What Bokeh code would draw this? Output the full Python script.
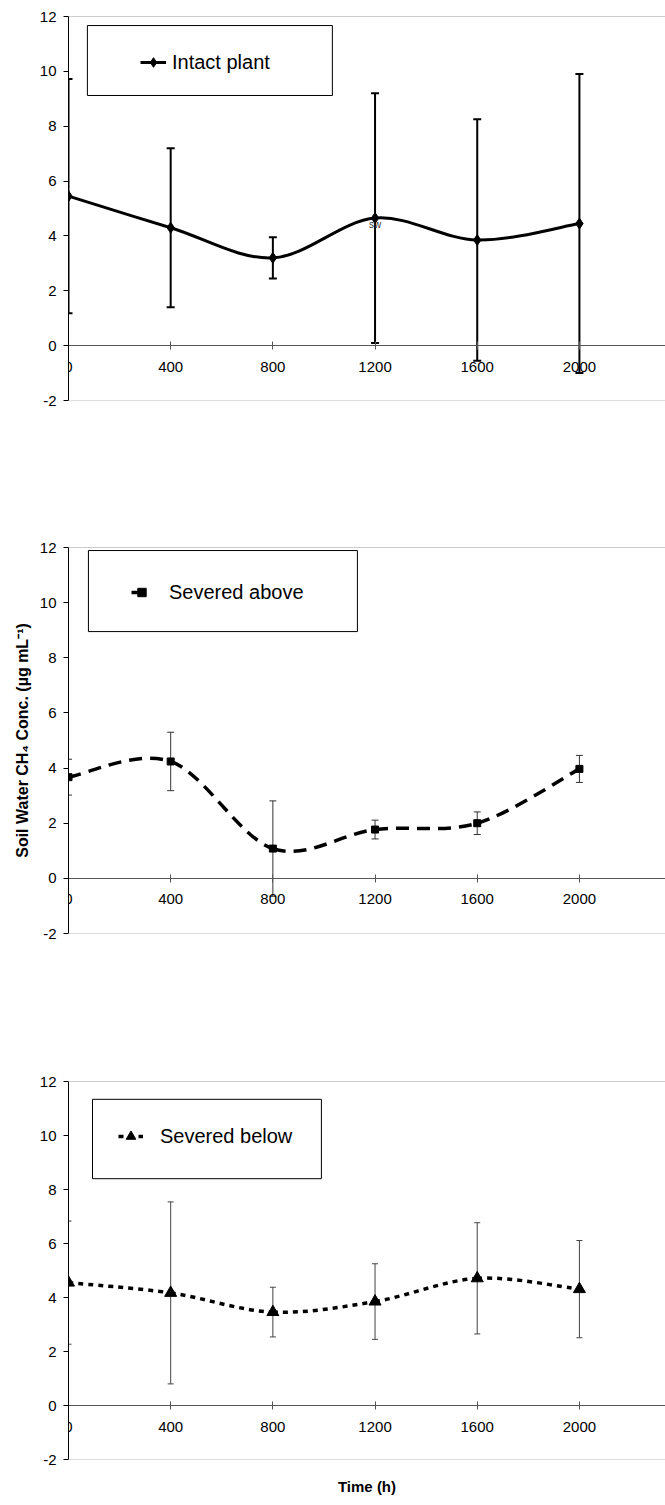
from bokeh.plotting import figure
from bokeh.models import (ColumnDataSource, Range1d, FixedTicker, Whisker, TeeHead,
                          Legend, LegendItem, BoxAnnotation, Span, LinearAxis)
from bokeh.layouts import column
from bokeh.core.properties import value
from bokeh.embed import file_html
from bokeh.resources import INLINE

# ---------------- data ----------------
times = [0, 400, 800, 1200, 1600, 2000]

intact_mean = [5.45, 4.30, 3.20, 4.65, 3.85, 4.45]
intact_err = [4.27, 2.90, 0.75, 4.55, 4.40, 5.45]

above_mean = [3.67, 4.24, 1.08, 1.77, 2.00, 3.97]
above_err = [0.65, 1.06, 1.73, 0.34, 0.41, 0.49]

below_mean = [4.55, 4.17, 3.46, 3.85, 4.71, 4.31]
below_err = [2.28, 3.37, 0.92, 1.40, 2.06, 1.80]

series_labels = ["Intact plant", "Severed above", "Severed below"]
x_ticks = [0, 400, 800, 1200, 1600, 2000]
y_ticks = [-2, 0, 2, 4, 6, 8, 10, 12]
y_title = "Soil Water CH\u2084 Conc. (\u00b5g mL\u207b\u00b9)"
x_title = "Time (h)"
note_text = ["sw"]
note_x = [1200]
note_y = [4.42]

FONT = "Liberation Sans"
X_END = 2337


def bezier_cols(xs, ys):
    n = len(xs)
    pts = list(zip(xs, ys))
    c = dict(x0=[], y0=[], x1=[], y1=[], cx0=[], cy0=[], cx1=[], cy1=[])
    for i in range(n - 1):
        p0 = pts[max(i - 1, 0)]
        p1 = pts[i]
        p2 = pts[i + 1]
        p3 = pts[min(i + 2, n - 1)]
        c["x0"].append(p1[0]); c["y0"].append(p1[1])
        c["x1"].append(p2[0]); c["y1"].append(p2[1])
        c["cx0"].append(p1[0] + (p2[0] - p0[0]) / 6.0)
        c["cy0"].append(p1[1] + (p2[1] - p0[1]) / 6.0)
        c["cx1"].append(p2[0] - (p3[0] - p1[0]) / 6.0)
        c["cy1"].append(p2[1] - (p3[1] - p1[1]) / 6.0)
    return c


def make_panel(mean, err, label, cfg):
    p = figure(width=665, height=cfg["height"], output_backend="svg", toolbar_location=None,
               x_range=Range1d(0, X_END), y_range=Range1d(-2, 12),
               min_border_left=68, min_border_right=0,
               min_border_top=cfg["top"], min_border_bottom=cfg["bottom"])
    p.grid.visible = False
    p.outline_line_color = None
    p.background_fill_color = "white"
    p.border_fill_color = "white"

    # y axis
    p.yaxis.ticker = FixedTicker(ticks=y_ticks)
    p.yaxis.major_label_overrides = {t: str(t) for t in y_ticks}
    p.yaxis.axis_line_color = "black"
    p.yaxis.major_tick_line_color = "black"
    p.yaxis.major_tick_in = 0
    p.yaxis.major_tick_out = 5
    p.yaxis.minor_tick_line_color = None
    p.yaxis.major_label_standoff = 7
    p.yaxis.major_label_text_font = FONT
    p.yaxis.major_label_text_font_size = "15px"
    p.yaxis.major_label_text_color = "black"
    p.yaxis.axis_label_text_font = FONT
    p.yaxis.axis_label_text_font_size = "16px"
    p.yaxis.axis_label_text_font_style = "bold"
    p.yaxis.axis_label_text_color = "black"
    p.yaxis.axis_label_standoff = 6

    # x axis at y = 0
    p.xaxis.fixed_location = 0
    p.xaxis.ticker = FixedTicker(ticks=x_ticks)
    p.xaxis.axis_line_color = "#555555"
    p.xaxis.major_tick_line_color = "#555555"
    p.xaxis.major_tick_in = 4
    p.xaxis.major_tick_out = 4
    p.xaxis.minor_tick_line_color = None
    p.xaxis.major_label_standoff = 12
    p.xaxis.major_label_text_font = FONT
    p.xaxis.major_label_text_font_size = "15px"
    p.xaxis.major_label_text_color = "black"

    p.add_layout(Span(location=12, dimension="width", line_color="#999999", line_width=1))
    p.add_layout(Span(location=-2, dimension="width", line_color="#bbbbbb", line_width=1))

    upper = [m + e for m, e in zip(mean, err)]
    lower = [m - e for m, e in zip(mean, err)]
    esrc = ColumnDataSource(dict(x=times, upper=upper, lower=lower))
    p.add_layout(Whisker(base="x", upper="upper", lower="lower", source=esrc,
                         line_color=cfg["ecolor"], line_width=cfg["ewidth"],
                         upper_head=TeeHead(size=cfg["cap"], line_color=cfg["ecolor"], line_width=cfg["ewidth"]),
                         lower_head=TeeHead(size=cfg["cap"], line_color=cfg["ecolor"], line_width=cfg["ewidth"])))

    bsrc = ColumnDataSource(bezier_cols(times, mean))
    br = p.bezier(x0="x0", y0="y0", x1="x1", y1="y1", cx0="cx0", cy0="cy0", cx1="cx1", cy1="cy1",
                  source=bsrc, line_color="black", line_width=cfg["lw"], line_dash=cfg["dash"])
    sr = p.scatter(times, mean, marker=cfg["marker"], size=cfg["msize"],
                   fill_color="black", line_color="black")

    bx0, bx1, by0, by1 = cfg["box"]
    p.add_layout(BoxAnnotation(left=bx0, right=bx1, bottom=by0, top=by1,
                               fill_color="white", fill_alpha=1.0,
                               line_color="black", line_width=1, line_alpha=1.0))

    leg = Legend(items=[LegendItem(label=label, renderers=[br, sr])],
                 location=cfg["legloc"], padding=0, margin=0, spacing=0,
                 border_line_color=None, background_fill_alpha=0,
                 glyph_width=cfg["gw"], glyph_height=24, label_height=24,
                 label_standoff=cfg["standoff"],
                 label_text_font=FONT, label_text_font_size="20px",
                 label_text_color="black")
    p.add_layout(leg, "center")
    return p


p1 = make_panel(intact_mean, intact_err, series_labels[0], dict(
    height=440, top=16, bottom=40, ecolor="black", ewidth=2, cap=8,
    lw=3, dash="solid", marker="diamond", msize=11,
    box=(74, 1033, 9.12, 11.67), legloc=(72, 326), gw=26, standoff=6))
p1.text(x=note_x, y=note_y, text=note_text, text_font=value(FONT), text_font_size="10px",
        text_align="center", text_baseline="middle", text_color="#333333")

p2 = make_panel(above_mean, above_err, series_labels[1], dict(
    height=533, top=107, bottom=40, ecolor="#333333", ewidth=1, cap=7,
    lw=3.5, dash="13 8", marker="square", msize=7,
    box=(78, 1131, 8.95, 11.89), legloc=(63, 329), gw=21, standoff=17))
p2.yaxis.axis_label = y_title

p3 = make_panel(below_mean, below_err, series_labels[2], dict(
    height=524, top=108, bottom=35, ecolor="#444444", ewidth=1, cap=6,
    lw=3.5, dash="5 5", marker="triangle", msize=12,
    box=(94, 990, 8.40, 11.34), legloc=(50, 311), gw=25, standoff=17))

title_axis = LinearAxis(ticker=FixedTicker(ticks=[]), axis_label=x_title,
                        axis_line_color=None, major_tick_line_color=None,
                        minor_tick_line_color=None, major_label_text_font_size="0px",
                        axis_label_text_font=FONT, axis_label_text_font_size="15px",
                        axis_label_text_font_style="bold", axis_label_text_color="black",
                        axis_label_standoff=18)
p3.add_layout(title_axis, "below")

layout = column(p1, p2, p3, spacing=0)
open("out.html", "w").write(file_html(layout, INLINE))
